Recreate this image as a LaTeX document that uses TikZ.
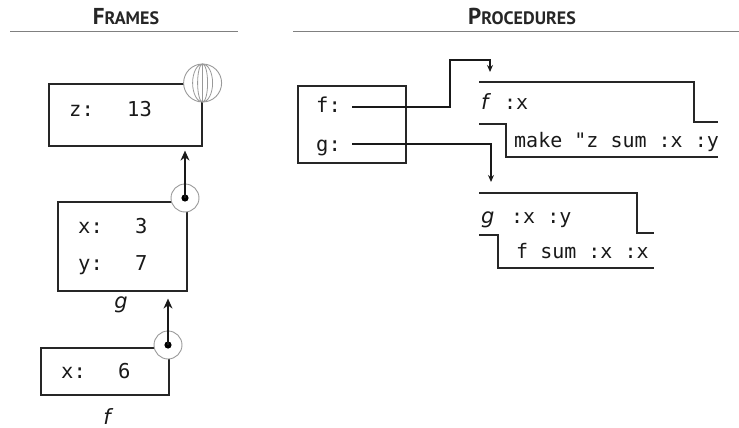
\documentclass[tikz,border=0pt]{standalone}
\usepackage{fontspec}
\setmainfont{DejaVu Sans}
\setmonofont{DejaVu Sans Mono}
\newfontfamily\headfont{PT Sans}
\usetikzlibrary{arrows.meta}
\tikzset{
  framebox/.style={draw=black!85, line width=1.6pt, anchor=north west, inner sep=0pt},
  txt/.style={anchor=base west, inner sep=0pt, text=black!90, font=\fontsize{20.5}{24}\selectfont\ttfamily},
  ptxt/.style={anchor=base west, inner sep=0pt, text=black!90, font=\fontsize{20}{24}\selectfont\ttfamily},
  ital/.style={inner sep=0pt, text=black!90, font=\fontsize{21}{24}\selectfont\itshape},
  head/.style={anchor=base, inner sep=0pt, text=black!85, font=\headfont\bfseries},
  hrule/.style={draw=black!50, line width=1pt},
  ring/.style={circle, draw=black!40, line width=0.9pt, fill=white, inner sep=0pt},
  wire/.style={draw=black!90, line width=1.6pt},
  bigptr/.style={-{Stealth[length=10pt,width=9pt]}},
  smallptr/.style={-{Stealth[length=7pt,width=6pt]}},
  procline/.style={draw=black!85, line width=1.6pt},
}
\begin{document}
\begin{tikzpicture}[x=1pt,y=-1pt]
\useasboundingbox (0,0) rectangle (739,428);

% headers
\node[head] (hframes) at (126,25) {{\fontsize{23}{24}\selectfont F}{\fontsize{18}{24}\selectfont RAMES}};
\node[head] (hprocs) at (522,25) {{\fontsize{23}{24}\selectfont P}{\fontsize{18}{24}\selectfont ROCEDURES}};
\draw[hrule] (10,32) -- (238,32);
\draw[hrule] (293,32) -- (739,32);

% frames
\node[framebox, minimum width=153pt, minimum height=62pt] (zf) at (48,83) {};
\node[framebox, minimum width=129pt, minimum height=89pt] (gf) at (57,201) {};
\node[framebox, minimum width=128pt, minimum height=47pt] (ff) at (40,347) {};

\node[txt] (zn) at (69,117) {z:};
\node[txt] (zv) at (127,117) {13};
\node[txt] (gx) at (78,233) {x:};
\node[txt] (gxv) at (135,233) {3};
\node[txt] (gy) at (78,270) {y:};
\node[txt] (gyv) at (135,270) {7};
\node[txt] (fx) at (61,378) {x:};
\node[txt] (fxv) at (118,378) {6};
\node[ital, anchor=base] (glbl) at (121,308) {g};
\node[ital, anchor=base] (flbl) at (107,424) {f};

% global frame globe
\node[ring, minimum size=38pt] (globe) at (zf.north east) {};
\draw[draw=black!40, line width=0.8pt] (globe.center) ellipse [x radius=5pt, y radius=19pt];
\draw[draw=black!40, line width=0.8pt] (globe.center) ellipse [x radius=10pt, y radius=19pt];
\draw[draw=black!40, line width=0.8pt] (globe.north) -- (globe.south);

% parent pointers
\node[ring, minimum size=28pt] (gring) at (185,198) {};
\fill[black] (gring.center) circle (3.6pt);
\draw[wire, bigptr, shorten >=4pt] (gring.center) -- (gring.center |- zf.south);

\node[ring, minimum size=28pt] (fring) at (168,345) {};
\fill[black] (fring.center) circle (3.6pt);
\draw[wire, bigptr, shorten >=7pt] (fring.center) -- (fring.center |- gf.south);

% procedures: global bindings
\node[framebox, draw=black!85, line width=1.5pt, minimum width=108pt, minimum height=77pt] (pf) at (297,85) {};
\node[txt] (pfn) at (316,112) {f:};
\node[txt] (pgn) at (316,151) {g:};
\coordinate (fs) at (352,107);
\coordinate (gs) at (352,144);
\coordinate (ftop) at (490,72);
\coordinate (gtop) at (491,182);
\draw[wire, smallptr] (fs) -| (450,60) -| (ftop);
\draw[wire, smallptr] (gs) -| (gtop);

% procedure f
\draw[procline] (479,82) -- (694,82) -- (694,122) -- (718,122);
\draw[procline] (479,124) -- (506,124) -- (506,157) -- (718,157);
\node[ital, anchor=base west] (fname) at (481,110) {f};
\node[ptxt] (fargs) at (504,110) {:x};
\node[ptxt] (fbody) at (514,147) {make "z sum :x :y};

% procedure g
\draw[procline] (479,193) -- (637,193) -- (637,233) -- (654,233);
\draw[procline] (479,235) -- (498,235) -- (498,268) -- (654,268);
\node[ital, anchor=base west] (gname) at (481,223) {g};
\node[ptxt] (gargs) at (511,223) {:x :y};
\node[ptxt] (gbody) at (516,258) {f sum :x :x};
\end{tikzpicture}
\end{document}
